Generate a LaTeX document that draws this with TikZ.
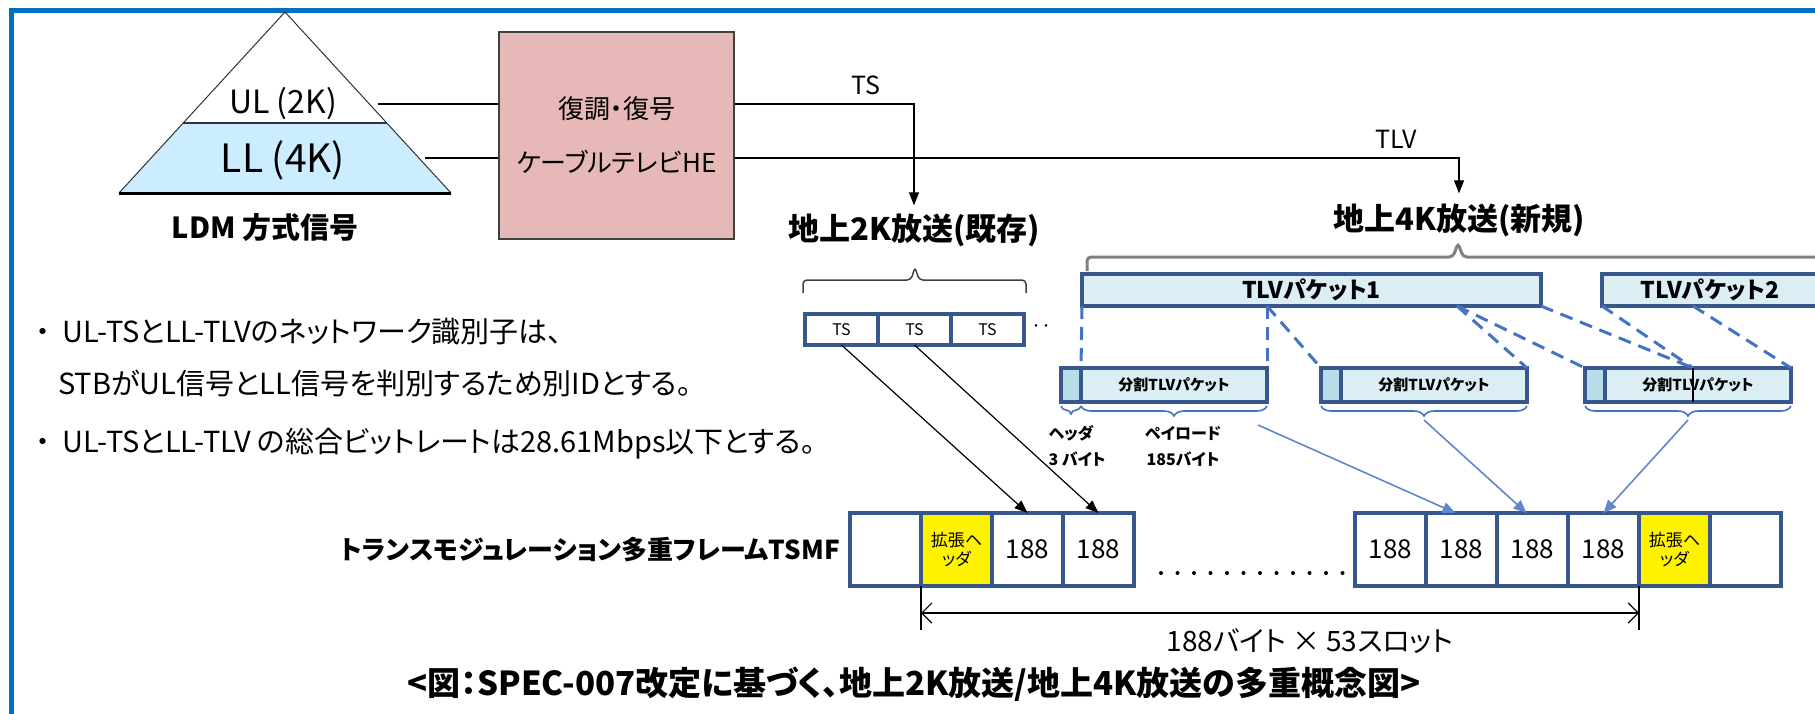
\documentclass[tikz,border=0pt]{standalone}
\usepackage{fontspec}
\setmainfont{Noto Sans CJK JP}[RawFeature=+palt]
\usetikzlibrary{arrows.meta,positioning,decorations.pathreplacing}

\definecolor{frameblue}{RGB}{0,112,192}
\definecolor{cellblue}{RGB}{56,87,140}
\definecolor{dashblue}{RGB}{68,114,196}
\definecolor{tlvfill}{RGB}{218,238,243}
\definecolor{hdrfill}{RGB}{183,222,232}
\definecolor{hefill}{RGB}{230,184,183}
\definecolor{llfill}{RGB}{204,236,255}
\newcommand{\fsz}[1]{\fontsize{#1}{#1}\selectfont}

\begin{document}
\begin{tikzpicture}[
  x=1pt, y=-1pt,
  cell/.style={draw=cellblue, line width=4pt, fill=white, minimum width=71pt,
    minimum height=73pt, inner sep=0pt, outer sep=0pt, font=\fsz{26}},
  tscell/.style={draw=cellblue, line width=3.5pt, fill=white, minimum width=73pt,
    minimum height=31pt, inner sep=0pt, outer sep=0pt, font=\fsz{16}},
  tlvbox/.style={draw=cellblue, line width=4pt, fill=tlvfill, minimum height=32pt,
    inner sep=0pt, outer sep=0pt, font=\bfseries\fsz{23}},
  hdrbox/.style={draw=cellblue, line width=3.5pt, fill=hdrfill, minimum width=20pt,
    minimum height=34pt, inner sep=0pt, outer sep=0pt},
  paybox/.style={draw=cellblue, line width=3.5pt, fill=tlvfill, minimum width=186pt,
    minimum height=34pt, inner sep=0pt, outer sep=0pt, font=\bfseries\fsz{15}},
  title/.style={font=\bfseries\fsz{31}, inner sep=0pt},
  note/.style={anchor=west, font=\fsz{29}, inner sep=0pt},
  small/.style={font=\bfseries\fsz{16}, inner sep=0pt},
  dline/.style={draw=dashblue, line width=3pt, dash pattern=on 13pt off 8pt},
  blink/.style={draw=dashblue!85, line width=1.6pt, -{Triangle[length=13pt,width=11pt]}},
  klink/.style={line width=1.2pt, -{Triangle[length=13pt,width=10pt]}},
  lbrace/.style={decorate, decoration={brace, mirror, amplitude=10pt},
    draw=dashblue, line width=1.6pt}
]
  \useasboundingbox (0,0) rectangle (1815,713);
  \draw[frameblue, line width=5pt] (11,740) -- (11,10) -- (1840,10);

  % LDM signal
  \fill[llfill] (183,123) -- (387,123) -- (451,193) -- (119,193) -- cycle;
  \draw[black!80, line width=1pt] (119,193) -- (285,12) -- (451,193);
  \draw[black!80, line width=1.5pt] (183,123) -- (387,123);
  \draw[line width=3pt] (119,193) -- (451,193);
  \node[font=\fsz{32}] (ul) at (283,104) {UL (2K)};
  \node[font=\fsz{39}] (ll) at (283,160) {LL (4K)};
  \node[font=\bfseries\fsz{29}] (ldm) at (265,228) {LDM 方式信号};

  \node[draw=black!75, line width=1.2pt, fill=hefill, minimum width=235pt,
    minimum height=207pt, align=center, font=\fsz{26}] (hebox) at (616.5,135.5)
    {復調・復号\\[28pt]ケーブルテレビHE};
  \coordinate (ulsrc) at (378,104);
  \coordinate (llsrc) at (425,158);
  \draw[line width=1.2pt] (ulsrc) -- (hebox.west |- ulsrc);
  \draw[line width=1.2pt] (llsrc) -- (hebox.west |- llsrc);

  \node[title] (title2k) at (914,230) {地上2K放送(既存)};
  \node[title] (title4k) at (1459,220) {地上4K放送(新規)};
  \node[font=\fsz{25}] (tslabel) at (866,85) {TS};
  \node[font=\fsz{25}] (tlvlabel) at (1396,139) {TLV};
  \draw[klink, shorten >=8pt] (hebox.east |- ulsrc) -| (title2k.north);
  \draw[klink, shorten >=10pt] (hebox.east |- llsrc) -| (title4k.north);

  % braces
  \draw[black!75, line width=1.5pt, rounded corners=4pt]
    (803,293) -- (803,280) -- (911,280) -- (915,267) -- (919,280) -- (1026,280) -- (1026,293);
  \draw[black!50, line width=3pt, rounded corners=4pt]
    (1087,271) -- (1087,257) -- (1453,257) -- (1458,243) -- (1463,257) -- (1840,257);

  % 2K TS packets
  \node[tscell] (ts1) at (841.5,329.5) {TS};
  \node[tscell, right=0pt of ts1] (ts2) {TS};
  \node[tscell, right=0pt of ts2] (ts3) {TS};
  \node[font=\fsz{20}, right=4pt of ts3] (tsdots) {‥};

  % 4K TLV packets
  \node[tlvbox, minimum width=459pt] (tlv1) at (1311.5,290) {TLVパケット1};
  \node[tlvbox, minimum width=216pt, anchor=west] (tlv2) at (1602,290) {TLVパケット2};

  \node[hdrbox] (splitAh) at (1071,385) {};
  \node[paybox, right=0pt of splitAh] (splitAp) {分割TLVパケット};
  \node[hdrbox] (splitBh) at (1331,385) {};
  \node[paybox, right=0pt of splitBh] (splitBp) {分割TLVパケット};
  \node[hdrbox] (splitCh) at (1595,385) {};
  \node[paybox, right=0pt of splitCh] (splitCp) {分割TLVパケット};

  \coordinate (cutA) at (splitAp.east |- tlv1.south);
  \coordinate (cutB) at (1457,306);
  \coordinate (cutC) at (1693,306);
  \coordinate (joinC) at (cutC |- splitCp.north);
  \draw[dline] (tlv1.south west) -- (splitAp.north west);
  \draw[dline] (cutA) -- (splitAp.north east);
  \draw[dline] (cutA) -- (splitBh.north west);
  \draw[dline] (cutB) -- (splitBp.north east);
  \draw[dline] (cutB) -- (splitCh.north west);
  \draw[dline] (tlv1.south east) -- (joinC);
  \draw[dline] (tlv2.south west) -- (joinC);
  \draw[dline] (cutC) -- (splitCp.north east);
  \draw[line width=2.5pt] (joinC) -- (joinC |- splitCp.south);

  \draw[lbrace, decoration={amplitude=8pt}]
    ([yshift=-4pt]splitAh.south west) -- ([yshift=-4pt]splitAh.south east);
  \draw[lbrace] ([yshift=-4pt]splitAp.south west) -- ([yshift=-4pt]splitAp.south east);
  \draw[lbrace] ([yshift=-4pt]splitBh.south west) -- ([yshift=-4pt]splitBp.south east);
  \draw[lbrace] ([yshift=-4pt]splitCh.south west) -- ([yshift=-4pt]splitCp.south east);

  \node[small] (hdrlabel) at (1071,433) {ヘッダ};
  \node[small] (hdrsize) at (1077,459) {3 バイト};
  \node[small] (paylabel) at (1183,433) {ペイロード};
  \node[small] (paysize) at (1183,459) {185バイト};

  % TSMF
  \node[cell] (frameL0) at (885.5,549.5) {};
  \node[cell, fill=yellow, right=0pt of frameL0, font=\fsz{17}, align=center]
    (frameL1) {拡張ヘ\\[2pt]ッダ};
  \node[cell, right=0pt of frameL1] (frameL2) {188};
  \node[cell, right=0pt of frameL2] (frameL3) {188};
  \node[cell] (frameR1) at (1390.5,549.5) {188};
  \node[cell, right=0pt of frameR1] (frameR2) {188};
  \node[cell, right=0pt of frameR2] (frameR3) {188};
  \node[cell, right=0pt of frameR3] (frameR4) {188};
  \node[cell, fill=yellow, right=0pt of frameR4, font=\fsz{17}, align=center]
    (frameR5) {拡張ヘ\\[2pt]ッダ};
  \node[cell, right=0pt of frameR5] (frameR6) {};
  \node[font=\bfseries\fsz{26}, inner sep=0pt, left=10pt of frameL0] (tsmflabel)
    {トランスモジュレーション多重フレームTSMF};
  \draw[line width=4pt, line cap=round, dash pattern=on 0pt off 16.5pt]
    (1161,573) -- (1346,573);

  \draw[klink] (ts1.south) -- (frameL2.north);
  \draw[klink] (ts2.south) -- (frameL3.north);
  \coordinate (srcA) at (1258,425);
  \coordinate (srcB) at (1424,420);
  \coordinate (srcC) at (1688,420);
  \draw[blink] (srcA) -- ([xshift=-6pt]frameR2.north);
  \draw[blink] (srcB) -- ([xshift=-6pt]frameR3.north);
  \draw[blink] (srcC) -- (frameR4.north);

  \draw[line width=1.2pt] (frameL1.south west) -- ++(0,44);
  \draw[line width=1.2pt] (frameR5.south west) -- ++(0,44);
  \draw[line width=1.2pt, {Straight Barb[length=10pt,width=20pt]}-{Straight Barb[length=10pt,width=20pt]}]
    ([yshift=-27pt]frameL1.south west) -- ([yshift=-27pt]frameR5.south west);
  \node[font=\fsz{28}] (slotlabel) at (1310,641) {188バイト × 53スロット};

  % notes
  \node[note] (note1) at (36,332) {・\hspace{12pt}UL-TSとLL-TLVのネットワーク識別子は、};
  \node[note] (note2) at (58,383) {STBがUL信号とLL信号を判別するため別IDとする。};
  \node[note] (note3) at (36,444) {・\hspace{12pt}UL-TSとLL-TLV の総合ビットレートは28.61Mbps以下とする。};

  \node[font=\bfseries\fsz{33}] (caption) at (914,684)
    {<図：SPEC-007改定に基づく、地上2K放送/地上4K放送の多重概念図>};
\end{tikzpicture}
\end{document}
